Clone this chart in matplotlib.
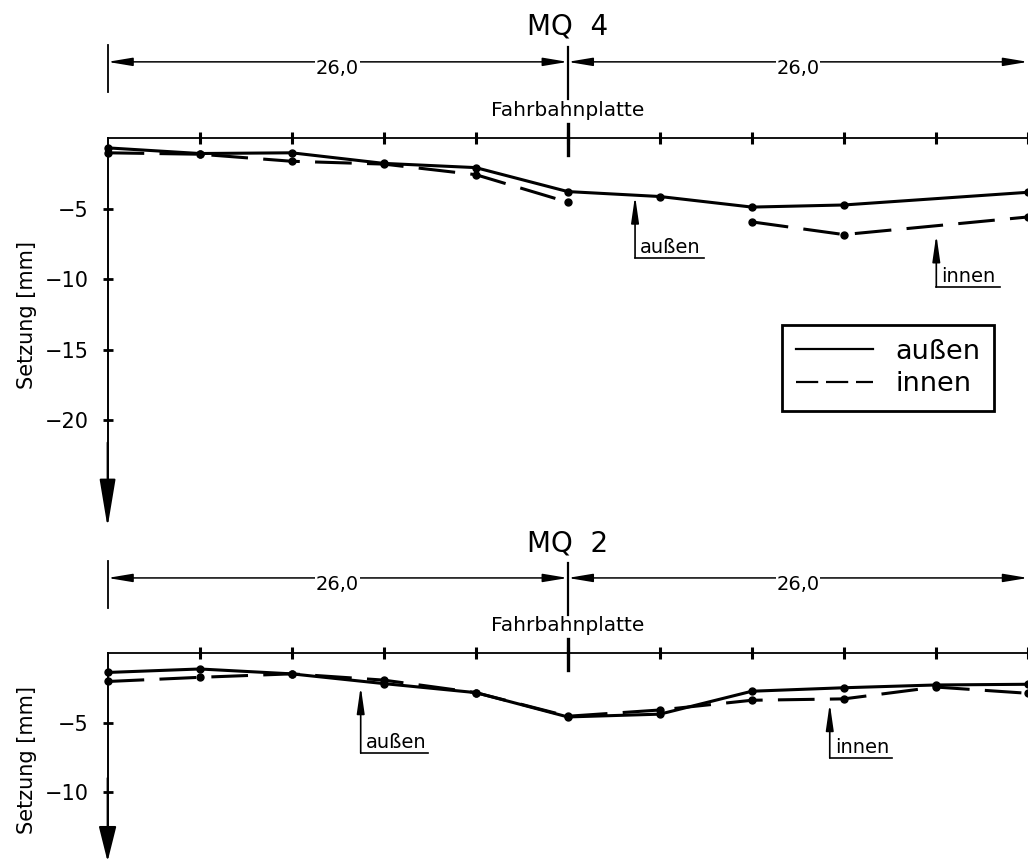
import numpy as np
import matplotlib
matplotlib.use("Agg")
import matplotlib.pyplot as plt
from matplotlib.lines import Line2D

plt.rcParams['font.family'] = ['DejaVu Sans']

# ---------------- data ----------------
stations = [0.0, 5.2, 10.4, 15.6, 20.8, 26.0, 31.2, 36.4, 41.6, 46.8, 52.0]
span_labels = ["26,0", "26,0"]
titles = ["MQ  4", "MQ  2"]
deck_label = "Fahrbahnplatte"
ylabel_text = "Setzung [mm]"
series_names = ["außen", "innen"]

mq4_x = [0.0, 5.2, 10.4, 15.6, 20.8, 26.0, 31.2, 36.4, 41.6, 52.0]
mq4_aussen = [-0.7, -1.1, -1.05, -1.8, -2.1, -3.8, -4.15, -4.9, -4.75, -3.85]
mq4_innen = [-1.05, -1.15, -1.65, -1.85, -2.6, -4.55, np.nan, -5.95, -6.85, -5.6]

mq2_x = stations
mq2_aussen = [-1.4, -1.15, -1.5, -2.2, -2.85, -4.6, -4.4, -2.75, -2.5, -2.3, -2.25]
mq2_innen = [-2.05, -1.75, -1.5, -1.95, -2.85, -4.55, -4.1, -3.4, -3.3, -2.45, -2.9]

mq4_yticks = [-5, -10, -15, -20]
mq2_yticks = [-5, -10]

# ---------------- layout ----------------
W, H = 1028, 863
fig = plt.figure(figsize=(W / 100, H / 100), dpi=100)
px_per_m = 17.77
x0_px = 108
xlim = (-x0_px / px_per_m, (W - x0_px) / px_per_m)

split = 535
ax_top = fig.add_axes([0, 1 - split / H, 1, split / H])
ax_bot = fig.add_axes([0, 0, 1, 1 - split / H])

panels = [
    dict(ax=ax_top, y0=138, scale=14.1, top=0, bottom=split,
         x=mq4_x, a=mq4_aussen, i=mq4_innen, yticks=mq4_yticks,
         title=titles[0], tip=-27.6, head=30, hw=5.0, ylab_y=-12.55,
         ann=[("außen", 29.8, -4.1, -8.5, 33.7), ("innen", 46.82, -6.85, -10.57, 50.4)],
         legend=True),
    dict(ax=ax_bot, y0=653, scale=13.9, top=split, bottom=H,
         x=mq2_x, a=mq2_aussen, i=mq2_innen, yticks=mq2_yticks,
         title=titles[1], tip=-15.0, head=22, hw=5.5, ylab_y=-7.7,
         ann=[("außen", 14.3, -2.4, -7.2, 18.1), ("innen", 40.8, -3.62, -7.55, 44.3)],
         legend=False),
]

span = stations[5]
total = stations[-1]

for p in panels:
    ax = p['ax']
    y0, sc = p['y0'], p['scale']
    ax.set_xlim(*xlim)
    ax.set_ylim(-(p['bottom'] - y0) / sc, (y0 - p['top']) / sc)
    ax.patch.set_alpha(0)
    for s in ['top', 'right']:
        ax.spines[s].set_visible(False)
    ax.spines['bottom'].set_position(('data', 0))
    ax.spines['bottom'].set_bounds(0, total + 2)
    ax.spines['bottom'].set_linewidth(1.3)
    ax.spines['left'].set_position(('data', 0))
    ax.spines['left'].set_bounds(p['tip'] + 1, 0)
    ax.spines['left'].set_linewidth(1.4)

    ax.set_xticks(stations[1:])
    ax.set_xticklabels([])
    ax.tick_params(axis='x', direction='inout', length=8, width=2.2, color='black')
    ax.set_yticks(p['yticks'])
    ax.tick_params(axis='y', direction='inout', length=7, width=2.0, labelsize=15,
                   pad=10, color='black')

    # y axis arrow head
    ax.annotate("", xy=(0, p['tip']), xytext=(0, p['tip'] + 6),
                arrowprops=dict(arrowstyle=f"-|>,head_length={p['head']},head_width={p['hw']}",
                                mutation_scale=1, color='black', lw=1.4,
                                shrinkA=0, shrinkB=0), annotation_clip=False)

    ax.set_ylabel(ylabel_text, fontsize=15)
    ax.yaxis.set_label_coords(-4.0, p['ylab_y'], transform=ax.transData)

    # data lines
    ax.plot(p['x'], p['a'], color='black', lw=2.2, marker='o', ms=5, solid_capstyle='round')
    ax.plot(p['x'], p['i'], color='black', lw=2.2, marker='o', ms=5, dashes=(12, 5))

    # title
    ax.text(span, 7.9, p['title'], ha='center', va='center', fontsize=20)

    # dimension line
    ydim = 5.4
    for xa, xb, lab in [(0, span, span_labels[0]), (span, total, span_labels[1])]:
        ax.annotate("", xy=(xb, ydim), xytext=(xa, ydim),
                    arrowprops=dict(arrowstyle="<|-|>,head_length=15,head_width=2.5",
                                    mutation_scale=1, color='black', lw=1.1,
                                    shrinkA=0, shrinkB=0), annotation_clip=False)
        ax.text((xa + xb) / 2, ydim - 0.45, lab, ha='center', va='center', fontsize=14,
                bbox=dict(facecolor='white', edgecolor='none', pad=0.5))
    ax.plot([0, 0], [6.6, 3.25], color='black', lw=1.3)
    ax.plot([span, span], [6.45, 2.75], color='black', lw=1.6)
    ax.text(span, 1.95, deck_label, ha='center', va='center', fontsize=14.5)
    ax.plot([span, span], [1.0, -1.2], color='black', lw=2.4)

    # annotations
    for lab, xa, tip, yb, xe in p['ann']:
        ax.annotate("", xy=(xa, tip), xytext=(xa, yb),
                    arrowprops=dict(arrowstyle="-|>,head_length=16,head_width=2.3",
                                    mutation_scale=1, color='black', lw=1.2,
                                    shrinkA=0, shrinkB=0))
        ax.plot([xa, xe], [yb, yb], color='black', lw=1.2)
        ax.text(xa + 0.3, yb + 0.05, lab, ha='left', va='bottom', fontsize=14)

    if p['legend']:
        handles = [Line2D([], [], color='black', lw=1.6),
                   Line2D([], [], color='black', lw=1.6, dashes=(10, 3.5))]
        leg = ax.legend(handles, series_names, loc='upper left',
                        bbox_to_anchor=(782 / W, 1 - 325 / H), bbox_transform=fig.transFigure,
                        borderaxespad=0, fontsize=19.5, handlelength=2.85, handletextpad=0.85,
                        labelspacing=0.25, borderpad=0.5, fancybox=False, framealpha=1)
        leg.get_frame().set_edgecolor('black')
        leg.get_frame().set_linewidth(2.0)

fig.savefig("out.png", dpi=100)
